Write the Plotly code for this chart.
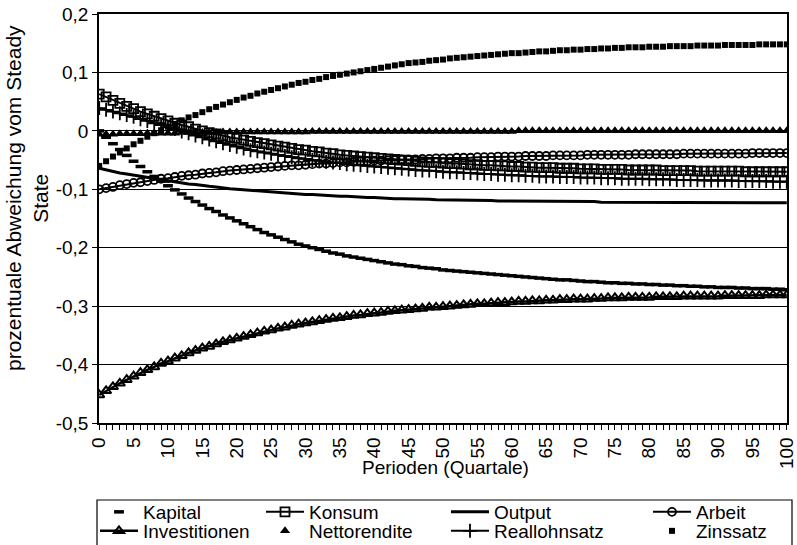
import plotly.graph_objects as go

# ---------------------------------------------------------------------------
# Data: percentage deviation from steady state, quarters 0..100
# ---------------------------------------------------------------------------
perioden = list(range(101))

kapital = [0.000, -0.011, -0.022, -0.032, -0.042, -0.052, -0.061, -0.070, -0.078, -0.086,
           -0.094, -0.101, -0.108, -0.115, -0.121, -0.127, -0.133, -0.138, -0.144, -0.149,
           -0.154, -0.159, -0.164, -0.169, -0.174, -0.178, -0.182, -0.186, -0.190, -0.194,
           -0.197, -0.200, -0.203, -0.206, -0.209, -0.211, -0.214, -0.216, -0.218, -0.220,
           -0.222, -0.224, -0.226, -0.228, -0.229, -0.231, -0.232, -0.234, -0.235, -0.236,
           -0.238, -0.239, -0.240, -0.241, -0.242, -0.243, -0.244, -0.245, -0.246, -0.247,
           -0.248, -0.249, -0.250, -0.251, -0.252, -0.253, -0.254, -0.255, -0.255, -0.256,
           -0.257, -0.258, -0.258, -0.259, -0.260, -0.260, -0.261, -0.261, -0.262, -0.262,
           -0.263, -0.263, -0.264, -0.264, -0.265, -0.265, -0.266, -0.266, -0.267, -0.267,
           -0.268, -0.268, -0.268, -0.269, -0.269, -0.270, -0.270, -0.270, -0.271, -0.271,
           -0.272]

konsum = [0.063, 0.058, 0.052, 0.047, 0.042, 0.038, 0.033, 0.029, 0.025, 0.021,
          0.017, 0.013, 0.010, 0.007, 0.003, 0.000, -0.003, -0.005, -0.008, -0.011,
          -0.013, -0.016, -0.018, -0.020, -0.022, -0.024, -0.026, -0.028, -0.030, -0.032,
          -0.033, -0.035, -0.036, -0.038, -0.039, -0.041, -0.042, -0.043, -0.044, -0.045,
          -0.046, -0.047, -0.048, -0.049, -0.050, -0.051, -0.052, -0.053, -0.054, -0.054,
          -0.055, -0.056, -0.056, -0.057, -0.058, -0.058, -0.059, -0.059, -0.060, -0.060,
          -0.061, -0.061, -0.062, -0.062, -0.063, -0.063, -0.063, -0.064, -0.064, -0.064,
          -0.065, -0.065, -0.065, -0.066, -0.066, -0.066, -0.066, -0.067, -0.067, -0.067,
          -0.067, -0.067, -0.068, -0.068, -0.068, -0.068, -0.068, -0.069, -0.069, -0.069,
          -0.069, -0.069, -0.069, -0.069, -0.070, -0.070, -0.070, -0.070, -0.070, -0.070,
          -0.070]

output = [-0.064, -0.067, -0.069, -0.072, -0.074, -0.076, -0.078, -0.080, -0.082, -0.084,
          -0.086, -0.088, -0.089, -0.091, -0.092, -0.094, -0.095, -0.096, -0.098, -0.099,
          -0.100, -0.101, -0.102, -0.103, -0.104, -0.105, -0.106, -0.106, -0.107, -0.108,
          -0.109, -0.109, -0.110, -0.111, -0.111, -0.112, -0.112, -0.113, -0.113, -0.114,
          -0.114, -0.115, -0.115, -0.116, -0.116, -0.116, -0.117, -0.117, -0.117, -0.118,
          -0.118, -0.118, -0.118, -0.119, -0.119, -0.119, -0.119, -0.119, -0.120, -0.120,
          -0.120, -0.120, -0.120, -0.120, -0.121, -0.121, -0.121, -0.121, -0.121, -0.121,
          -0.121, -0.121, -0.121, -0.122, -0.122, -0.122, -0.122, -0.122, -0.122, -0.122,
          -0.122, -0.122, -0.122, -0.122, -0.122, -0.122, -0.123, -0.123, -0.123, -0.123,
          -0.123, -0.123, -0.123, -0.123, -0.123, -0.123, -0.123, -0.123, -0.123, -0.123,
          -0.123]

arbeit = [-0.100, -0.098, -0.096, -0.093, -0.091, -0.089, -0.088, -0.086, -0.084, -0.082,
          -0.081, -0.079, -0.077, -0.076, -0.075, -0.073, -0.072, -0.071, -0.069, -0.068,
          -0.067, -0.066, -0.065, -0.064, -0.063, -0.062, -0.061, -0.060, -0.059, -0.059,
          -0.058, -0.057, -0.056, -0.056, -0.055, -0.054, -0.054, -0.053, -0.052, -0.052,
          -0.051, -0.051, -0.050, -0.050, -0.049, -0.049, -0.049, -0.048, -0.048, -0.047,
          -0.047, -0.047, -0.046, -0.046, -0.046, -0.045, -0.045, -0.045, -0.044, -0.044,
          -0.044, -0.044, -0.043, -0.043, -0.043, -0.043, -0.042, -0.042, -0.042, -0.042,
          -0.042, -0.041, -0.041, -0.041, -0.041, -0.041, -0.041, -0.041, -0.040, -0.040,
          -0.040, -0.040, -0.040, -0.040, -0.040, -0.039, -0.039, -0.039, -0.039, -0.039,
          -0.039, -0.039, -0.039, -0.039, -0.039, -0.038, -0.038, -0.038, -0.038, -0.038,
          -0.038]

investitionen = [-0.452, -0.445, -0.438, -0.432, -0.426, -0.420, -0.414, -0.409, -0.404, -0.398,
                 -0.394, -0.389, -0.385, -0.380, -0.376, -0.372, -0.369, -0.365, -0.361, -0.358,
                 -0.355, -0.352, -0.349, -0.346, -0.343, -0.341, -0.338, -0.336, -0.333, -0.331,
                 -0.329, -0.327, -0.325, -0.323, -0.321, -0.320, -0.318, -0.316, -0.315, -0.313,
                 -0.312, -0.311, -0.309, -0.308, -0.307, -0.306, -0.305, -0.304, -0.302, -0.302,
                 -0.301, -0.300, -0.299, -0.298, -0.297, -0.296, -0.296, -0.295, -0.294, -0.294,
                 -0.293, -0.292, -0.292, -0.291, -0.291, -0.290, -0.290, -0.289, -0.289, -0.288,
                 -0.288, -0.288, -0.287, -0.287, -0.286, -0.286, -0.286, -0.285, -0.285, -0.285,
                 -0.285, -0.284, -0.284, -0.284, -0.284, -0.283, -0.283, -0.283, -0.283, -0.283,
                 -0.283, -0.282, -0.282, -0.282, -0.282, -0.282, -0.282, -0.281, -0.281, -0.281,
                 -0.281]

nettorendite = [-0.006, -0.006, -0.006, -0.005, -0.005, -0.005, -0.005, -0.004, -0.004, -0.004,
                -0.004, -0.004, -0.003, -0.003, -0.003, -0.003, -0.003, -0.003, -0.002, -0.002,
                -0.002, -0.002, -0.002, -0.002, -0.002, -0.002, -0.002, -0.002, -0.002, -0.002,
                -0.002, -0.001, -0.001, -0.001, -0.001, -0.001, -0.001, -0.001, -0.001, -0.001,
                -0.001, -0.001, -0.001, -0.001, -0.001, -0.001, -0.001, -0.001, -0.001, -0.001,
                -0.001, -0.001, -0.001, -0.001, -0.001, -0.001, -0.001, -0.001, -0.001, -0.001,
                -0.001, 0.000, 0.000, 0.000, 0.000, 0.000, 0.000, 0.000, 0.000, 0.000,
                0.000, 0.000, 0.000, 0.000, 0.000, 0.000, 0.000, 0.000, 0.000, 0.000,
                0.000, 0.000, 0.000, 0.000, 0.000, 0.000, 0.000, 0.000, 0.000, 0.000,
                0.000, 0.000, 0.000, 0.000, 0.000, 0.000, 0.000, 0.000, 0.000, 0.000,
                0.000]

reallohnsatz = [0.039, 0.036, 0.033, 0.030, 0.027, 0.024, 0.020, 0.017, 0.013, 0.010,
                0.006, 0.003, -0.001, -0.004, -0.008, -0.011, -0.015, -0.018, -0.021, -0.024,
                -0.027, -0.030, -0.033, -0.035, -0.037, -0.039, -0.041, -0.043, -0.045, -0.047,
                -0.048, -0.050, -0.051, -0.053, -0.054, -0.055, -0.057, -0.058, -0.059, -0.060,
                -0.061, -0.062, -0.063, -0.064, -0.065, -0.066, -0.067, -0.068, -0.068, -0.069,
                -0.070, -0.071, -0.071, -0.072, -0.072, -0.073, -0.074, -0.074, -0.075, -0.075,
                -0.076, -0.076, -0.077, -0.077, -0.078, -0.078, -0.078, -0.079, -0.079, -0.079,
                -0.080, -0.080, -0.080, -0.081, -0.081, -0.081, -0.082, -0.082, -0.082, -0.082,
                -0.083, -0.083, -0.083, -0.083, -0.084, -0.084, -0.084, -0.084, -0.085, -0.085,
                -0.085, -0.085, -0.085, -0.086, -0.086, -0.086, -0.086, -0.086, -0.087, -0.087,
                -0.087]

zinssatz = [-0.060, -0.052, -0.044, -0.037, -0.030, -0.023, -0.017, -0.010, -0.004, 0.001,
            0.007, 0.012, 0.018, 0.023, 0.027, 0.032, 0.037, 0.041, 0.045, 0.049,
            0.053, 0.057, 0.060, 0.064, 0.067, 0.070, 0.073, 0.076, 0.079, 0.082,
            0.084, 0.087, 0.089, 0.092, 0.094, 0.096, 0.098, 0.100, 0.102, 0.104,
            0.106, 0.108, 0.110, 0.112, 0.114, 0.116, 0.117, 0.118, 0.120, 0.121,
            0.122, 0.124, 0.125, 0.126, 0.127, 0.128, 0.129, 0.130, 0.131, 0.132,
            0.133, 0.133, 0.134, 0.135, 0.136, 0.136, 0.137, 0.138, 0.138, 0.139,
            0.139, 0.140, 0.140, 0.141, 0.141, 0.142, 0.142, 0.143, 0.143, 0.143,
            0.144, 0.144, 0.144, 0.145, 0.145, 0.145, 0.145, 0.146, 0.146, 0.146,
            0.146, 0.147, 0.147, 0.147, 0.147, 0.147, 0.148, 0.148, 0.148, 0.148,
            0.148]

y_tickvals = [-0.5, -0.4, -0.3, -0.2, -0.1, 0.0, 0.1, 0.2]
y_ticktext = ["-0,5", "-0,4", "-0,3", "-0,2", "-0,1", "0", "0,1", "0,2"]
x_tickvals = list(range(0, 101, 5))
x_ticktext = [str(v) for v in x_tickvals]

y_title = "prozentuale Abweichung vom Steady<br>State"
x_title = "Perioden (Quartale)"

# ---------------------------------------------------------------------------
# Figure
# ---------------------------------------------------------------------------
W, H = 797, 545
FONT = "Arial, 'Liberation Sans', sans-serif"
FS_TICK = 19
FS_TEXT = 19
FS_YTITLE = 21
INK = "black"

fig = go.Figure()

# (name, values, mode, marker, line, legend slot)
series = [
    ("Kapital", kapital, "markers",
     dict(symbol="line-ew", size=7, line=dict(width=3.5, color=INK), color=INK), None, "legend"),
    ("Konsum", konsum, "lines+markers",
     dict(symbol="square-open", size=9, line=dict(width=1.8, color=INK), color=INK),
     dict(width=2, color=INK), "legend2"),
    ("Output", output, "lines", None, dict(width=3, color=INK), "legend3"),
    ("Arbeit", arbeit, "lines+markers",
     dict(symbol="circle-open", size=8, line=dict(width=1.8, color=INK), color=INK),
     dict(width=2, color=INK), "legend4"),
    ("Investitionen", investitionen, "lines+markers",
     dict(symbol="triangle-up-open", size=9, line=dict(width=2, color=INK), color=INK),
     dict(width=2.5, color=INK), "legend5"),
    ("Nettorendite", nettorendite, "markers",
     dict(symbol="triangle-up", size=9, color=INK), None, "legend6"),
    ("Reallohnsatz", reallohnsatz, "lines+markers",
     dict(symbol="cross-thin", size=10, line=dict(width=1.8, color=INK), color=INK),
     dict(width=2, color=INK), "legend7"),
    ("Zinssatz", zinssatz, "markers",
     dict(symbol="square", size=6, color=INK), None, "legend8"),
]

for name, vals, mode, marker, line, leg in series:
    kw = dict(x=perioden, y=vals, name=name, mode=mode, legend=leg)
    if marker is not None:
        kw["marker"] = marker
    if line is not None:
        kw["line"] = line
    fig.add_trace(go.Scatter(**kw))

# plot-area geometry in pixels
L, R, T, B = 99, 787, 14, 423

# legend entries: one small legend per entry, laid out on two rows
col_x = [100, 266, 451, 653]
row_y = [512, 531]
legend_layout = {}
for i, (_, _, _, _, _, leg) in enumerate(series):
    col, row = i % 4, i // 4
    legend_layout[leg] = dict(
        x=(col_x[col] - 5) / W, y=1 - row_y[row] / H,
        xref="container", yref="container",
        xanchor="left", yanchor="middle",
        bgcolor="rgba(0,0,0,0)", borderwidth=0,
        itemwidth=38, font=dict(family=FONT, size=FS_TEXT, color=INK),
        itemclick=False, itemdoubleclick=False,
    )

fig.update_layout(
    width=W, height=H,
    margin=dict(l=L, r=W - R, t=T, b=H - B, pad=0, autoexpand=False),
    paper_bgcolor="white", plot_bgcolor="white",
    font=dict(family=FONT, size=FS_TEXT, color=INK),
    showlegend=True,
    **legend_layout,
)

fig.update_xaxes(
    range=[-0.03, 100.03], tickmode="array", tickvals=x_tickvals, ticktext=x_ticktext,
    tickangle=-90, ticks="outside", ticklen=5, tickwidth=1, tickcolor=INK,
    ticklabeloverflow="allow",
    minor=dict(dtick=1, ticks="outside", ticklen=5, tickwidth=1, tickcolor=INK, showgrid=False),
    showline=True, linecolor=INK, linewidth=1.5, mirror=True,
    showgrid=False, zeroline=False, automargin=False,
    tickfont=dict(family=FONT, size=FS_TICK, color=INK),
)
fig.update_yaxes(
    range=[-0.5, 0.2], tickmode="array", tickvals=y_tickvals, ticktext=y_ticktext,
    ticks="outside", ticklen=5, tickwidth=1, tickcolor=INK,
    showline=True, linecolor=INK, linewidth=1.5, mirror=True,
    showgrid=True, gridcolor=INK, gridwidth=1, zeroline=False, automargin=False,
    tickfont=dict(family=FONT, size=FS_TICK, color=INK),
)

# axis titles
fig.add_annotation(
    text=y_title, textangle=-90, xref="paper", yref="paper",
    x=(27 - L) / (R - L), y=(B - 198) / (B - T), xanchor="center", yanchor="middle",
    showarrow=False, align="center", font=dict(family=FONT, size=FS_YTITLE, color=INK),
)
fig.add_annotation(
    text=x_title, xref="paper", yref="paper",
    x=(445 - L) / (R - L), y=(B - 468) / (B - T), xanchor="center", yanchor="middle",
    showarrow=False, font=dict(family=FONT, size=FS_TEXT, color=INK),
)

# legend frame
fig.add_shape(
    type="rect", xref="paper", yref="paper",
    x0=(97 - L) / (R - L), x1=(792 - L) / (R - L),
    y0=(B - 500) / (B - T), y1=(B - 547) / (B - T),
    line=dict(color=INK, width=1.2), fillcolor="rgba(0,0,0,0)", layer="above",
)

fig.write_html("out.html")
